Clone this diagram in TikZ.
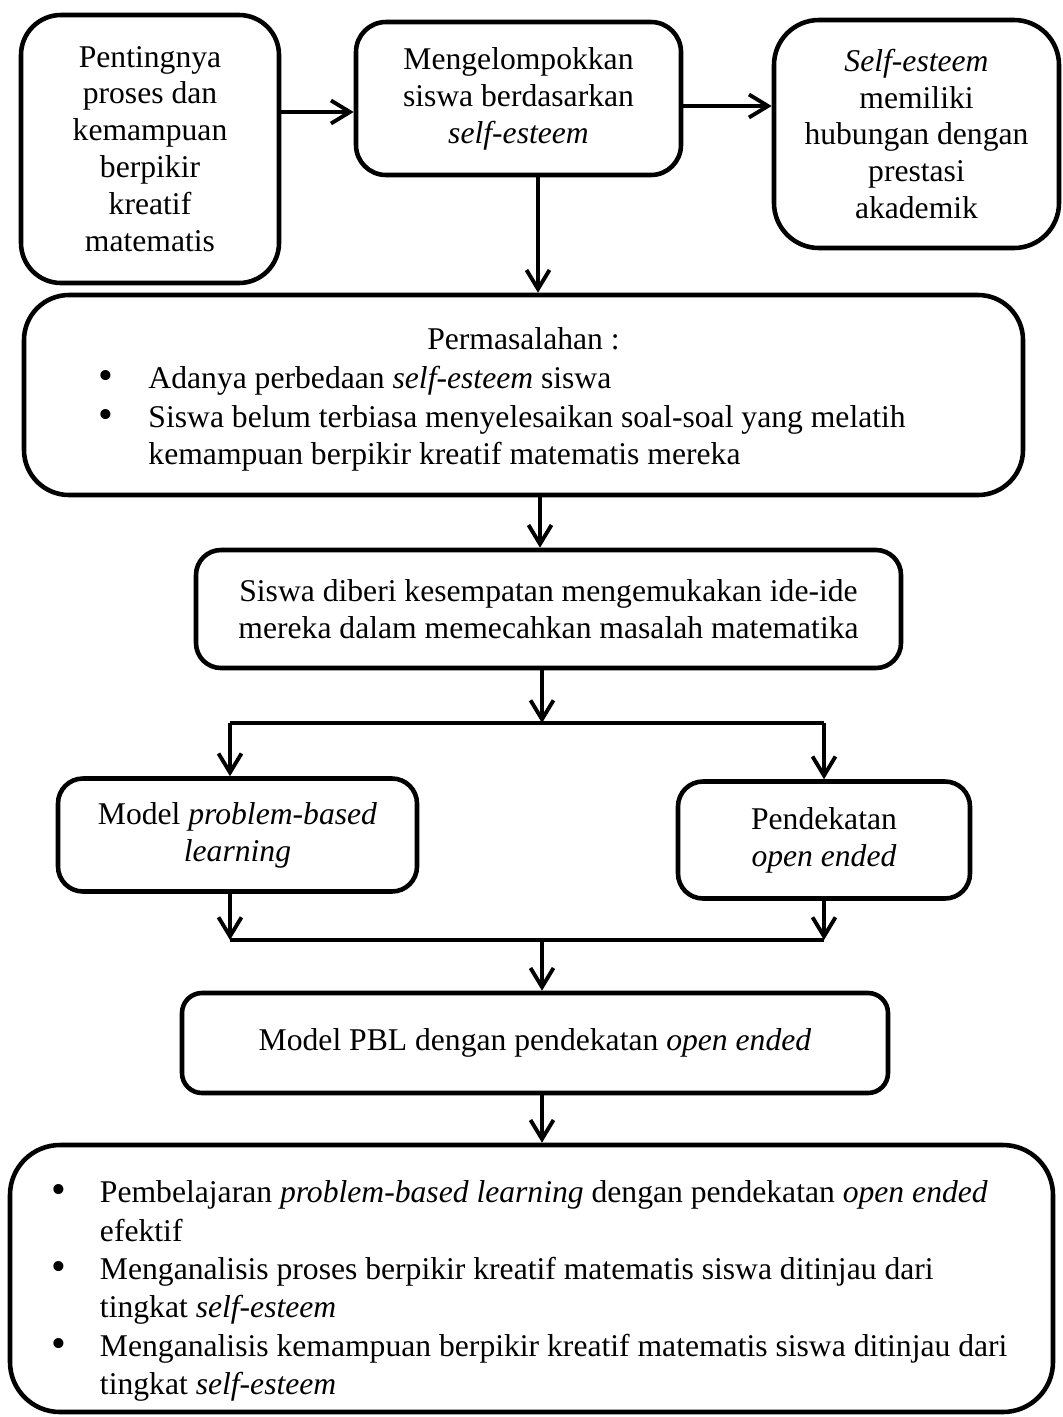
\documentclass[tikz,border=0pt]{standalone}
\usepackage{fontspec}
\setmainfont{Liberation Serif}
\usepackage{enumitem}
\usetikzlibrary{arrows.meta}
\usetikzlibrary{calc}
\usetikzlibrary{positioning}

\newcommand{\listdot}{\raisebox{-0.08ex}{\fontsize{24}{24}\selectfont\textbullet}}

\begin{document}
\begin{tikzpicture}[
    box/.style={draw,rectangle,line width=2.6pt,align=center,inner sep=0pt,
      font=\fontsize{18}{21}\selectfont},
    >={Straight Barb[length=0.38cm,width=0.46cm]}
  ]

  \useasboundingbox (0,0) rectangle (21.24,-28.34);

  % top row
  \node [box,rounded corners=0.8cm,minimum width=5.16cm,minimum height=5.36cm] (A) at (3.00,-2.98)
    {Pentingnya\\proses dan\\kemampuan\\berpikir\\kreatif\\matematis};
  \node [box,rounded corners=0.6cm,minimum width=6.5cm,minimum height=3.06cm] (B) at (10.37,-1.97)
    {Mengelompokkan\\siswa berdasarkan\\\textit{self-esteem}};
  \node [box,rounded corners=0.9cm,minimum width=5.7cm,minimum height=4.56cm] (C) at (18.33,-2.68)
    {\textit{Self-esteem}\\memiliki\\hubungan dengan\\prestasi\\akademik};

  \node [box,rounded corners=0.9cm,minimum width=19.98cm,minimum height=4.0cm] (D) at (10.47,-7.90)
    {\begin{minipage}{19cm}
       \vspace*{0.18cm}
       \centering Permasalahan :\par
       \begin{itemize}[nosep,itemsep=1.5pt,topsep=1pt,leftmargin=2cm,labelsep=0.7cm,label=\listdot]\raggedright
         \item Adanya perbedaan \textit{self-esteem} siswa
         \item Siswa belum terbiasa menyelesaikan soal-soal yang melatih\\kemampuan berpikir kreatif matematis mereka
       \end{itemize}
     \end{minipage}};

  \node [box,rounded corners=0.5cm,minimum width=14.1cm,minimum height=2.36cm] (E) at (10.97,-12.18)
    {Siswa diberi kesempatan mengemukakan ide-ide\\mereka dalam memecahkan masalah matematika};

  % two branches
  \node [box,rounded corners=0.5cm,minimum width=7.18cm,minimum height=2.26cm] (F) at (4.75,-16.70)
    {Model \textit{problem-based}\\\textit{learning}};
  \node [box,rounded corners=0.5cm,minimum width=5.84cm,minimum height=2.34cm] (G) at (16.48,-16.80)
    {Pendekatan\\\textit{open ended}};

  \node [box,rounded corners=0.4cm,minimum width=14.12cm,minimum height=2.0cm] (H) at (10.70,-20.86)
    {Model PBL dengan pendekatan \textit{open ended}};

  \node [box,rounded corners=1cm,minimum width=20.86cm,minimum height=5.34cm,
         font=\fontsize{18}{21.8}\selectfont] (I) at (10.63,-25.57)
    {\begin{minipage}{20cm}
       \vspace*{0.5cm}
       \begin{itemize}[nosep,leftmargin=1.37cm,labelsep=0.68cm,label=\listdot]\raggedright
         \item Pembelajaran \textit{problem-based learning} dengan pendekatan \textit{open ended}\\efektif
         \item Menganalisis proses berpikir kreatif matematis siswa ditinjau dari\\tingkat \textit{self-esteem}
         \item Menganalisis kemampuan berpikir kreatif matematis siswa ditinjau dari\\tingkat \textit{self-esteem}
       \end{itemize}
     \end{minipage}};

  % where the connectors run
  \coordinate (rowAB) at (0,-2.24);
  \coordinate (rowBC) at (0,-2.12);
  \coordinate (colB)  at (10.76,0);
  \coordinate (colD)  at (10.80,0);
  \coordinate (colF)  at (4.60,0);
  \coordinate (colG)  at (16.48,0);
  \coordinate (split) at (10.84,-14.46);
  \coordinate (join)  at (10.84,-18.80);

  \path [line width=2.2pt,->]
    (A.east |- rowAB)  edge (B.west |- rowAB)
    (B.east |- rowBC)  edge (C.west |- rowBC)
    (B.south -| colB)  edge (D.north -| colB)
    (D.south -| colD)  edge (E.north -| colD)
    (E.south -| split) edge (split)
    (colF |- split)    edge (F.north -| colF)
    (colG |- split)    edge (G.north -| colG)
    (F.south -| colF)  edge (colF |- join)
    (G.south -| colG)  edge (colG |- join)
    (join)             edge (H.north -| join)
    (H.south -| join)  edge (I.north -| join);

  \draw [line width=2.8pt] (colF |- split) -- (colG |- split);
  \draw [line width=2.8pt] (colF |- join) -- (colG |- join);

\end{tikzpicture}
\end{document}
